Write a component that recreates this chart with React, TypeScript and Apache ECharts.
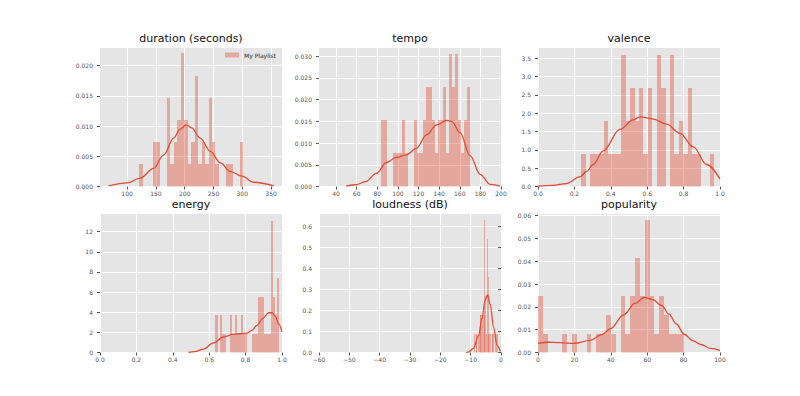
import React, { useEffect, useRef } from 'react';
import * as echarts from 'echarts';

const FONT = "'DejaVu Sans', sans-serif";
const BAR_COLOR = 'rgba(226,74,51,0.4)';
const LINE_COLOR = '#E24A33';

// ---------- duration (seconds) ----------
const durationStart = 121.4;
const durationBinWidth = 6.0;
const durationHist = [0.0037, 0, 0, 0, 0.0073, 0.0073, 0, 0, 0.0146, 0.0037, 0.0073, 0.011, 0.022, 0.011, 0.0037, 0.0073, 0.0183, 0.0037, 0.0073, 0.0037, 0.0146, 0.0073, 0.0037, 0, 0, 0.0037, 0.0037, 0, 0, 0.0073];
const durationKdeX = [68, 100, 123, 146, 163.5, 181, 192, 203, 212, 227, 244.6, 262, 279, 299.6, 319.8, 354.5];
const durationKdeY = [0.0001, 0.0006, 0.0014, 0.003, 0.0052, 0.008, 0.0095, 0.0102, 0.0097, 0.008, 0.0058, 0.0039, 0.0025, 0.0017, 0.0007, 0.0001];
const durationXTicks = [100, 150, 200, 250, 300, 350];
const durationYTicks = [0, 0.005, 0.01, 0.015, 0.02];

// ---------- tempo ----------
const tempoStart = 83.9;
const tempoBinWidth = 2.87;
const tempoHist = [0.0153, 0.0153, 0, 0, 0.0077, 0.0077, 0.0077, 0.0153, 0.0077, 0, 0, 0.0153, 0.0077, 0.0077, 0.0153, 0.023, 0.023, 0.0153, 0.0077, 0.0153, 0.0153, 0.023, 0.0077, 0.0305, 0.023, 0.0305, 0.0153, 0.0077, 0.0153, 0.023];
const tempoKdeX = [49.8, 59.5, 69.3, 79, 88.8, 98.5, 108.3, 118, 127.8, 137.6, 147.3, 152.2, 160.3, 170, 179.8, 189.6, 199];
const tempoKdeY = [0.0001, 0.0004, 0.0012, 0.003, 0.0055, 0.0067, 0.0073, 0.0088, 0.0119, 0.0142, 0.0152, 0.015, 0.0124, 0.0071, 0.0028, 0.0005, 0.0001];
const tempoXTicks = [40, 60, 80, 100, 120, 140, 160, 180, 200];
const tempoYTicks = [0, 0.005, 0.01, 0.015, 0.02, 0.025, 0.03];

// ---------- valence ----------
const valenceStart = 0.239;
const valenceBinWidth = 0.0243;
const valenceHist = [0.9, 0, 0.9, 0.9, 0.9, 1.8, 0.9, 0.9, 0.9, 3.6, 1.8, 2.7, 1.8, 2.7, 0.9, 2.7, 0, 3.6, 2.7, 0, 3.6, 0.9, 1.8, 0.9, 2.7, 0.9, 0.9, 0, 0, 0.9];
const valenceKdeX = [0, 0.083, 0.156, 0.229, 0.266, 0.303, 0.358, 0.45, 0.523, 0.56, 0.633, 0.707, 0.78, 0.853, 0.927, 1.0];
const valenceKdeY = [0.01, 0.03, 0.08, 0.26, 0.41, 0.6, 0.97, 1.56, 1.82, 1.9, 1.84, 1.7, 1.45, 1.08, 0.6, 0.2];
const unitXTicks = [0, 0.2, 0.4, 0.6, 0.8, 1.0];
const valenceYTicks = [0, 0.5, 1, 1.5, 2, 2.5, 3, 3.5];

// ---------- energy ----------
const energyStart = 0.634;
const energyBinWidth = 0.0117;
const energyHist = [3.7, 0, 3.7, 1.85, 1.85, 0, 0, 3.7, 1.85, 3.7, 1.85, 1.85, 3.7, 1.85, 1.85, 0, 0, 1.85, 1.85, 1.85, 5.55, 5.55, 5.55, 1.85, 1.85, 1.85, 13.1, 5.55, 3.7, 7.4];
const energyKdeX = [0.486, 0.52, 0.568, 0.624, 0.679, 0.734, 0.77, 0.807, 0.835, 0.862, 0.895, 0.926, 0.945, 0.963, 0.982, 1.0];
const energyKdeY = [0.02, 0.08, 0.33, 0.95, 1.55, 1.82, 1.88, 1.92, 2.2, 2.7, 3.4, 3.95, 3.95, 3.6, 2.85, 2.05];
const energyYTicks = [0, 2, 4, 6, 8, 10, 12];

// ---------- loudness (dB) ----------
const loudnessStart = -8.9;
const loudnessBinWidth = 0.265;
const loudnessHist = [0.09, 0, 0.09, 0.09, 0, 0.09, 0.09, 0.18, 0.18, 0.18, 0.18, 0.18, 0.18, 0.63, 0.27, 0.09, 0.54, 0.36, 0.09, 0.09, 0.09, 0, 0.09, 0.09, 0.09, 0, 0.09, 0.09, 0, 0.09];
const loudnessKdeX = [-11.5, -10.8, -9.1, -7.4, -6.3, -5.2, -4.45, -3.55, -2.45, -1.33, -0.2];
const loudnessKdeY = [0, 0.002, 0.02, 0.08, 0.16, 0.25, 0.275, 0.23, 0.12, 0.035, 0.005];
const loudnessXTicks = [-60, -50, -40, -30, -20, -10, 0];
const loudnessYTicks = [0, 0.1, 0.2, 0.3, 0.4, 0.5, 0.6];

// ---------- popularity ----------
const popularityStart = 0;
const popularityBinWidth = 2.667;
const popularityHist = [0.0249, 0.0083, 0, 0, 0, 0.0083, 0, 0.0083, 0, 0, 0.0083, 0, 0.0083, 0.0083, 0.0166, 0.0083, 0, 0.0249, 0.0083, 0.0249, 0.0415, 0.0249, 0.0581, 0.0249, 0.0083, 0.0249, 0.0166, 0.0083, 0.0083, 0.0083];
const popularityKdeX = [0, 5.5, 12, 20, 28.7, 35, 40, 47, 53.3, 58.5, 63, 68, 72, 76, 80.3, 85, 89.4, 95, 100];
const popularityKdeY = [0.004, 0.0045, 0.0043, 0.004, 0.0053, 0.0078, 0.0105, 0.0165, 0.0215, 0.0242, 0.0232, 0.0205, 0.0168, 0.0125, 0.008, 0.0052, 0.0035, 0.0018, 0.0009];
const popularityXTicks = [0, 20, 40, 60, 80, 100];
const popularityYTicks = [0, 0.01, 0.02, 0.03, 0.04, 0.05, 0.06];

const titles = ['duration (seconds)', 'tempo', 'valence', 'energy', 'loudness (dB)', 'popularity'];

type Panel = {
  title: string;
  start: number;
  width: number;
  hist: number[];
  kdeX: number[];
  kdeY: number[];
  xMin: number;
  xMax: number;
  xTicks: number[];
  xDec: number;
  yMax: number;
  yTicks: number[];
  yDec: number;
  minus?: boolean;
};

const panels: Panel[] = [
  { title: titles[0], start: durationStart, width: durationBinWidth, hist: durationHist, kdeX: durationKdeX, kdeY: durationKdeY, xMin: 53, xMax: 369, xTicks: durationXTicks, xDec: 0, yMax: 0.0229, yTicks: durationYTicks, yDec: 3 },
  { title: titles[1], start: tempoStart, width: tempoBinWidth, hist: tempoHist, kdeX: tempoKdeX, kdeY: tempoKdeY, xMin: 23.5, xMax: 200, xTicks: tempoXTicks, xDec: 0, yMax: 0.0319, yTicks: tempoYTicks, yDec: 3 },
  { title: titles[2], start: valenceStart, width: valenceBinWidth, hist: valenceHist, kdeX: valenceKdeX, kdeY: valenceKdeY, xMin: 0, xMax: 1, xTicks: unitXTicks, xDec: 1, yMax: 3.78, yTicks: valenceYTicks, yDec: 1 },
  { title: titles[3], start: energyStart, width: energyBinWidth, hist: energyHist, kdeX: energyKdeX, kdeY: energyKdeY, xMin: 0, xMax: 1, xTicks: unitXTicks, xDec: 1, yMax: 13.76, yTicks: energyYTicks, yDec: 0 },
  { title: titles[4], start: loudnessStart, width: loudnessBinWidth, hist: loudnessHist, kdeX: loudnessKdeX, kdeY: loudnessKdeY, xMin: -60, xMax: 0, xTicks: loudnessXTicks, xDec: 0, yMax: 0.6605, yTicks: loudnessYTicks, yDec: 1, minus: true },
  { title: titles[5], start: popularityStart, width: popularityBinWidth, hist: popularityHist, kdeX: popularityKdeX, kdeY: popularityKdeY, xMin: 0, xMax: 100, xTicks: popularityXTicks, xDec: 0, yMax: 0.0607, yTicks: popularityYTicks, yDec: 2 },
];

const colLeft = [100, 319, 538];
const rowTop = [48, 214];
const GRID_W = 182;
const GRID_H = 138.5;

function fmt(v: number, dec: number, minus?: boolean) {
  const s = Number(v).toFixed(dec);
  return minus ? s.replace('-', '\u2212') : s;
}

function buildOption() {
  const grid: any[] = [];
  const xAxis: any[] = [];
  const yAxis: any[] = [];
  const series: any[] = [];
  const graphic: any[] = [];

  panels.forEach((p, i) => {
    const left = colLeft[i % 3];
    const top = rowTop[Math.floor(i / 3)];
    grid.push({
      left,
      top,
      width: GRID_W,
      height: GRID_H,
      show: true,
      backgroundColor: '#E5E5E5',
      borderWidth: 0,
      borderColor: 'transparent',
      containLabel: false,
    });
    xAxis.push({
      gridIndex: i,
      type: 'value',
      min: p.xMin,
      max: p.xMax,
      axisLine: { show: false },
      axisTick: { show: true, length: 3, inside: false, customValues: p.xTicks, lineStyle: { color: '#555555', width: 1 } },
      axisLabel: {
        customValues: p.xTicks,
        fontSize: 6,
        fontFamily: FONT,
        color: '#555555',
        margin: 4,
        formatter: (v: number) => fmt(v, p.xDec, p.minus),
      },
      splitLine: { show: true, lineStyle: { color: '#FFFFFF', width: 1 } },
    });
    yAxis.push({
      gridIndex: i,
      type: 'value',
      min: 0,
      max: p.yMax,
      axisLine: { show: false },
      axisTick: { show: true, length: 3, inside: false, customValues: p.yTicks, lineStyle: { color: '#555555', width: 1 } },
      axisLabel: {
        customValues: p.yTicks,
        fontSize: 6,
        fontFamily: FONT,
        color: '#555555',
        margin: 7,
        formatter: (v: number) => fmt(v, p.yDec),
      },
      splitLine: { show: true, lineStyle: { color: '#FFFFFF', width: 1 } },
    });
    const histData = p.hist.map((h, k) => [p.start + k * p.width, p.start + (k + 1) * p.width, h]);
    series.push({
      type: 'custom',
      name: i === 0 ? 'My Playlist' : p.title + ' histogram',
      xAxisIndex: i,
      yAxisIndex: i,
      data: histData,
      encode: { x: [0, 1], y: 2 },
      itemStyle: { color: BAR_COLOR },
      silent: true,
      z: 2,
      renderItem: (params: any, api: any) => {
        const x0 = api.value(0);
        const x1 = api.value(1);
        const h = api.value(2);
        if (!h) return null;
        const p0 = api.coord([x0, h]);
        const p1 = api.coord([x1, 0]);
        // snap shared edges to whole pixels so neighbouring bars leave no seams
        const left = Math.round(p0[0]);
        const right = Math.max(left + 1, Math.round(p1[0]));
        const topY = Math.round(p0[1]);
        return {
          type: 'rect',
          shape: { x: left, y: topY, width: right - left, height: p1[1] - topY },
          style: { fill: BAR_COLOR, stroke: null },
        };
      },
    });
    series.push({
      type: 'line',
      name: p.title + ' kde',
      xAxisIndex: i,
      yAxisIndex: i,
      data: p.kdeX.map((x, k) => [x, p.kdeY[k]]),
      showSymbol: false,
      symbol: 'none',
      smooth: 0.35,
      smoothMonotone: 'x',
      lineStyle: { color: LINE_COLOR, width: 1.3 },
      itemStyle: { color: LINE_COLOR },
      silent: true,
      z: 3,
    });
    graphic.push({
      type: 'text',
      x: left + GRID_W / 2,
      y: top - 9.5,
      silent: true,
      style: {
        text: p.title,
        fontSize: 11,
        fontFamily: FONT,
        fill: '#111111',
        align: 'center',
        verticalAlign: 'middle',
        textAlign: 'center',
        textVerticalAlign: 'middle',
      },
    });
  });

  return {
    animation: false,
    backgroundColor: '#FFFFFF',
    grid,
    xAxis,
    yAxis,
    series,
    graphic,
    legend: {
      show: true,
      left: 225,
      top: 52,
      padding: 0,
      itemWidth: 14,
      itemHeight: 5,
      itemGap: 4,
      selectedMode: false,
      data: [{ name: 'My Playlist', icon: 'rect', itemStyle: { color: BAR_COLOR } }],
      textStyle: { fontSize: 6, fontFamily: FONT, color: '#222222' },
    },
  };
}

export default function App() {
  const ref = useRef<HTMLDivElement>(null);
  useEffect(() => {
    if (!ref.current) return;
    const chart = echarts.init(ref.current, null, { renderer: 'svg' });
    chart.setOption(buildOption() as any);
    return () => {
      chart.dispose();
    };
  }, []);
  return (
    <div
      ref={ref}
      style={{ position: 'absolute', left: 0, top: 0, width: 800, height: 396, background: '#FFFFFF' }}
    />
  );
}
